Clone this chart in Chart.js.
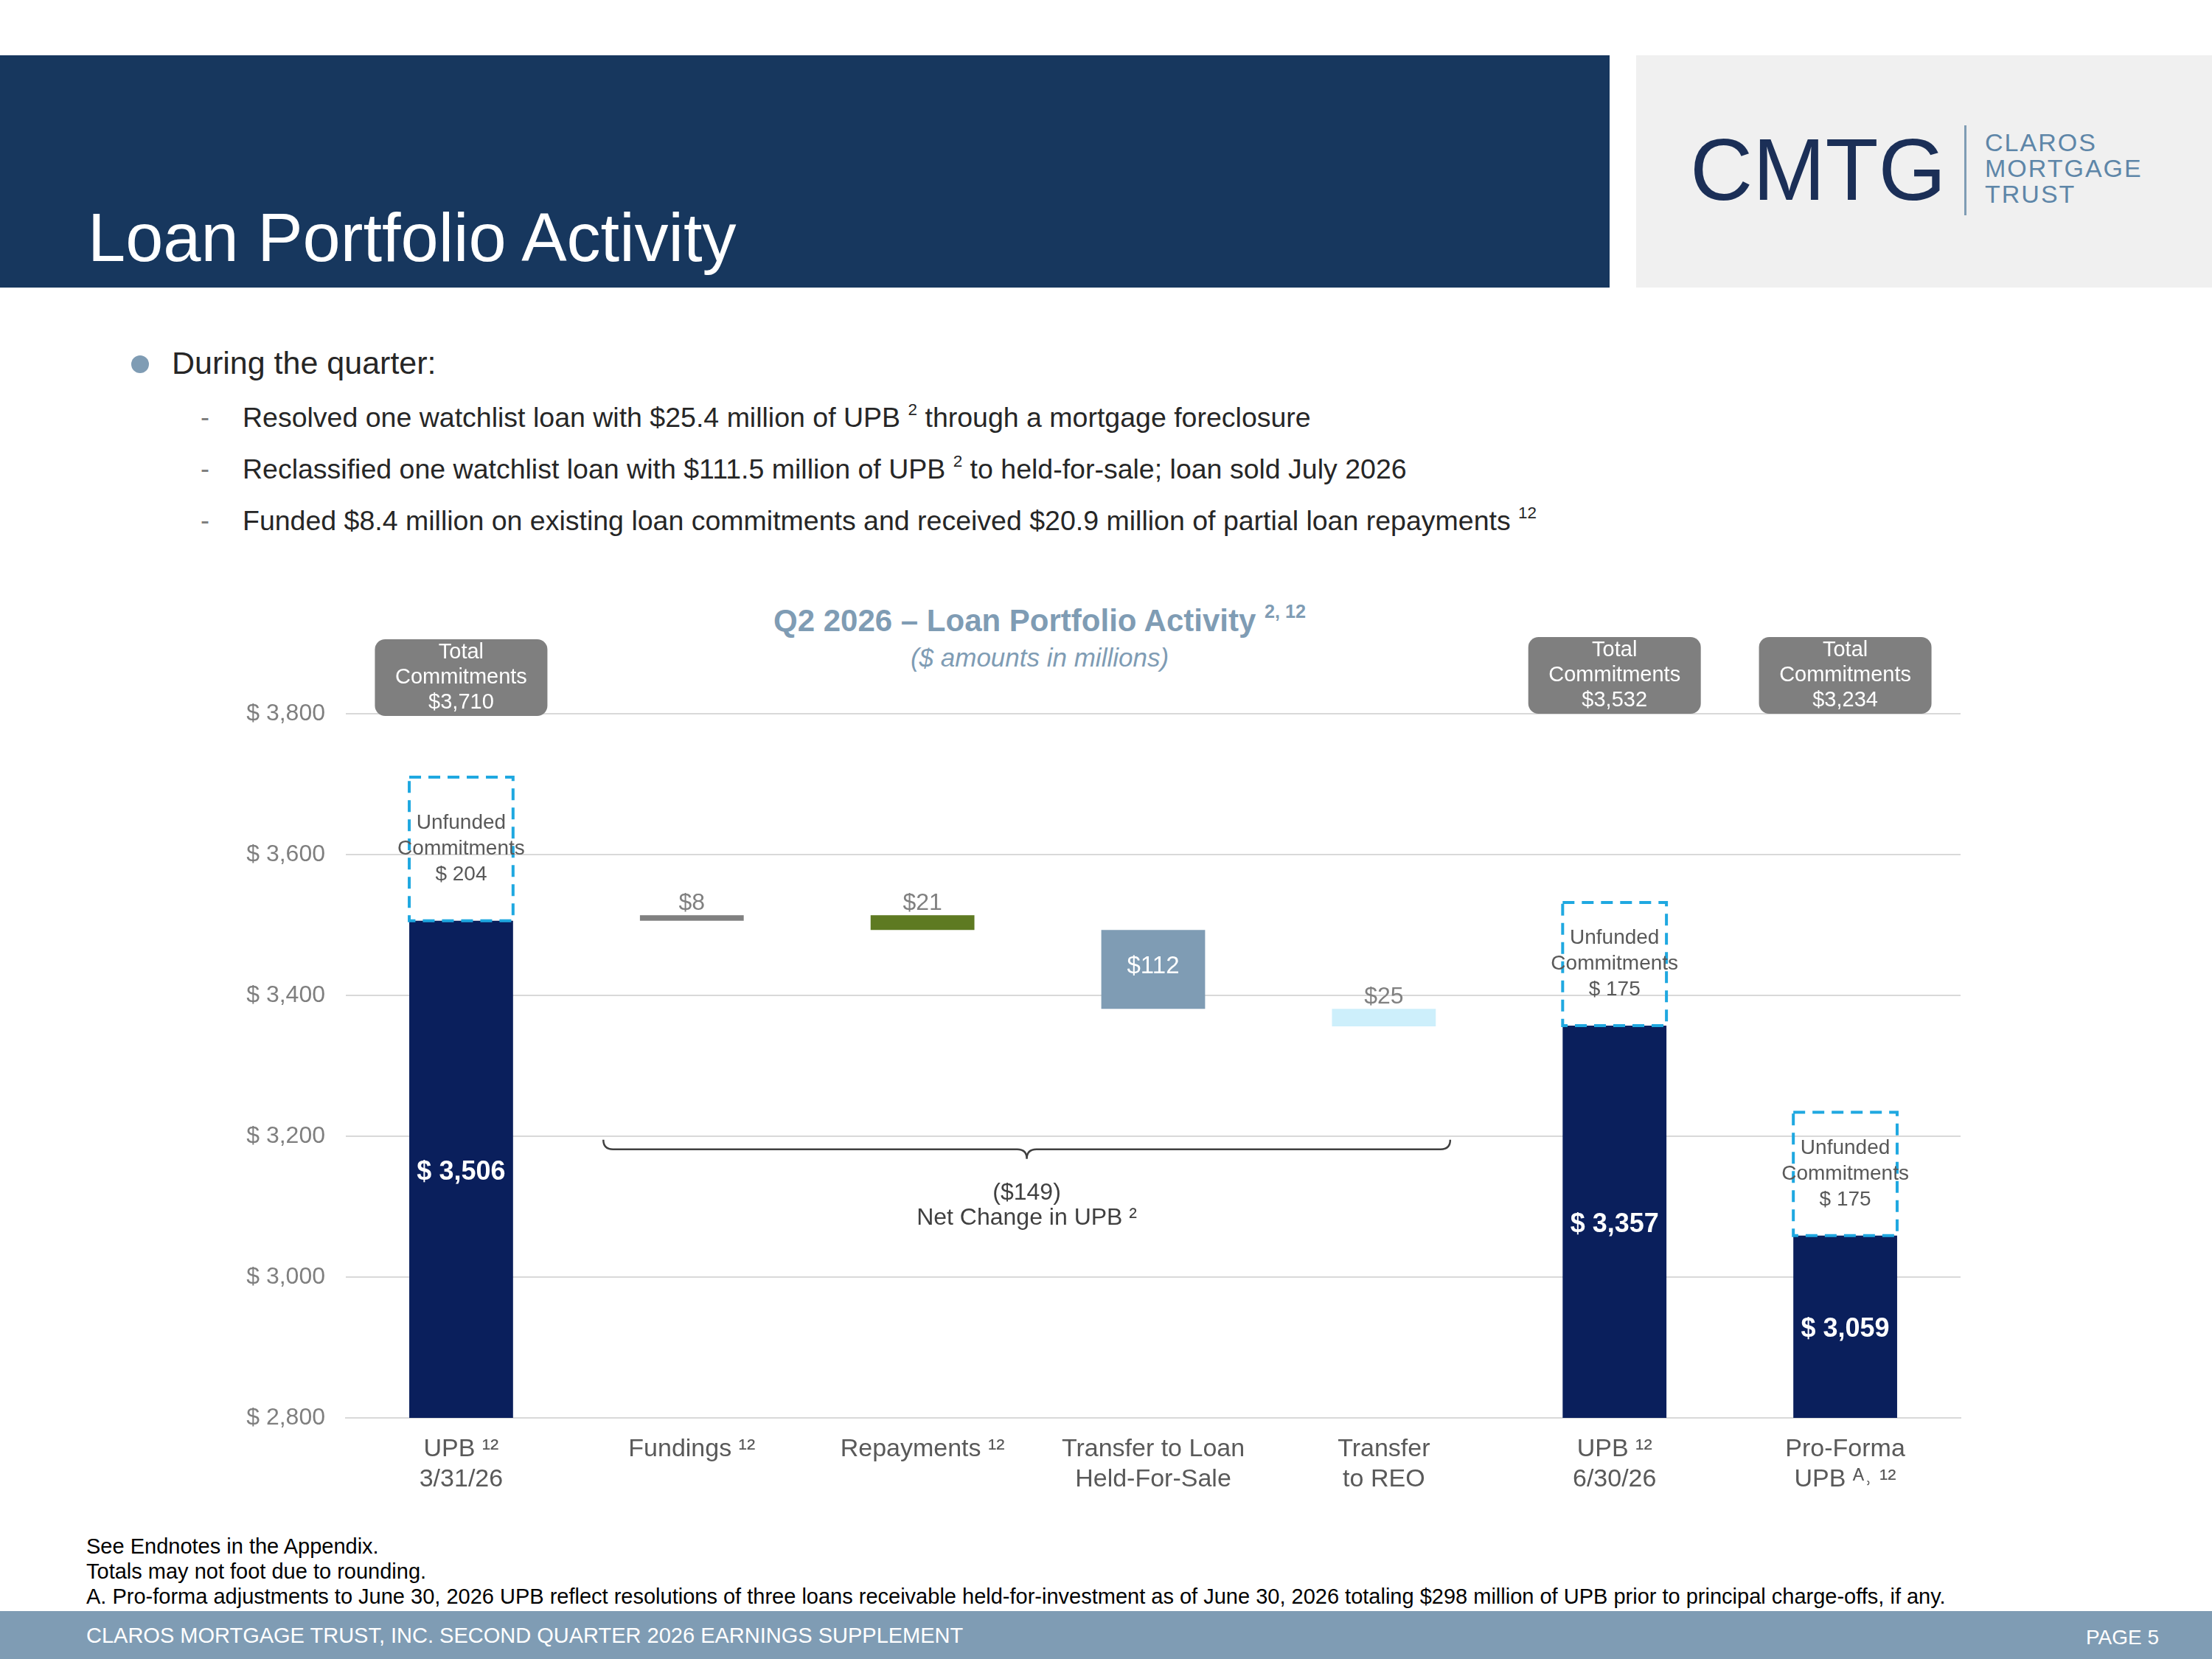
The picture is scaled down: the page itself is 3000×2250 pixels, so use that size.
<!DOCTYPE html>
<html>
<head>
<meta charset="utf-8">
<script src="https://cdn.jsdelivr.net/npm/chart.js@4"></script>
<style>
  html, body { margin: 0; padding: 0; background: #fff; }
  body { width: 3000px; height: 2250px; position: relative; overflow: hidden; font-family: "Liberation Sans", Arial, sans-serif; }
  .abs { position: absolute; }
  #header { left: 0; top: 75px; width: 2183px; height: 315px; background: #17375E; }
  #title { left: 119px; top: 270px; color: #fff; font-size: 92px; }
  #logoBox { left: 2219px; top: 75px; width: 781px; height: 315px; background: #F0F0F0; }
  #cmtg { left: 2292px; top: 162px; font-size: 118px; color: #1B2F57; letter-spacing: 0px; transform: scaleX(1.0); }
  #logoLine { left: 2664px; top: 170px; width: 3px; height: 122px; background: #7F9CB4; }
  #claros { left: 2692px; top: 176px; font-size: 34px; line-height: 35px; color: #5E86A8; letter-spacing: 2px; }
  .bullet { color: #262626; }
  #b0 { left: 233px; top: 468px; font-size: 43px; }
  #dot { left: 178px; top: 482px; width: 24px; height: 24px; border-radius: 50%; background: #7F9CB4; }
  .sub { left: 329px; font-size: 37.5px; }
  .dash { left: 272px; font-size: 36px; color: #7F7F7F; }
  sup { font-size: 60%; line-height: 0; vertical-align: 0.7em; }
  #ctitle { left: 0; width: 2820px; text-align: center; top: 818px; font-size: 42px; font-weight: bold; color: #7F9CB4; }
  #csub { left: 0; width: 2820px; text-align: center; top: 872px; font-size: 35px; font-style: italic; color: #7F9CB4; }
  .note { left: 117px; font-size: 29px; color: #000; }
  #footer { left: 0; top: 2185px; width: 3000px; height: 65px; background: #7F9CB4; }
  #ftext { left: 117px; top: 2202px; font-size: 29px; color: #fff; }
  #page { right: 72px; top: 2205px; font-size: 28px; color: #fff; }
  canvas { position: absolute; left: 0; top: 0; }
</style>
</head>
<body>
<div id="header" class="abs"></div>
<div id="title" class="abs">Loan Portfolio Activity</div>
<div id="logoBox" class="abs"></div>
<div id="cmtg" class="abs">CMTG</div>
<div id="logoLine" class="abs"></div>
<div id="claros" class="abs">CLAROS<br>MORTGAGE<br>TRUST</div>

<div id="dot" class="abs"></div>
<div id="b0" class="abs bullet">During the quarter:</div>
<div class="abs dash" style="top:545px">-</div>
<div class="abs sub bullet" style="top:545px">Resolved one watchlist loan with $25.4 million of UPB <sup>2</sup> through a mortgage foreclosure</div>
<div class="abs dash" style="top:615px">-</div>
<div class="abs sub bullet" style="top:615px">Reclassified one watchlist loan with $111.5 million of UPB <sup>2</sup> to held-for-sale; loan sold July 2026</div>
<div class="abs dash" style="top:685px">-</div>
<div class="abs sub bullet" style="top:685px">Funded $8.4 million on existing loan commitments and received $20.9 million of partial loan repayments <sup>12</sup></div>

<div id="ctitle" class="abs">Q2 2026 – Loan Portfolio Activity <sup>2, 12</sup></div>
<div id="csub" class="abs">($ amounts in millions)</div>

<div class="abs note" style="top:2081px">See Endnotes in the Appendix.</div>
<div class="abs note" style="top:2115px">Totals may not foot due to rounding.</div>
<div class="abs note" style="top:2149px">A. Pro-forma adjustments to June 30, 2026 UPB reflect resolutions of three loans receivable held-for-investment as of June 30, 2026 totaling $298 million of UPB prior to principal charge-offs, if any.</div>
<div id="footer" class="abs"></div>
<div id="ftext" class="abs">CLAROS MORTGAGE TRUST, INC. SECOND QUARTER 2026 EARNINGS SUPPLEMENT</div>
<div id="page" class="abs">PAGE 5</div>

<canvas id="wf" width="3000" height="2250"></canvas>
<script>
// --- Data ---
const categories = [['UPB ¹²', '3/31/26'], 'Fundings ¹²', 'Repayments ¹²', ['Transfer to Loan', 'Held-For-Sale'], ['Transfer', 'to REO'], ['UPB ¹²', '6/30/26'], ['Pro-Forma', 'UPB ᴬ˒ ¹²']];
const barLow  = [2800, 3506, 3493, 3381, 3356, 2800, 2800];
const barHigh = [3506, 3514, 3514, 3493, 3381, 3357, 3059];
const barLabels = ['$ 3,506', '$8', '$21', '$112', '$25', '$ 3,357', '$ 3,059'];
const unfundedLow  = [3506, null, null, null, null, 3357, 3059];
const unfundedHigh = [3710, null, null, null, null, 3532, 3234];
const unfundedText = ['$ 204', null, null, null, null, '$ 175', '$ 175'];
const totalText = ['$3,710', null, null, null, null, '$3,532', '$3,234'];
const yTicks = [2800, 3000, 3200, 3400, 3600, 3800];
const netChange = '($149)';

const barColors = ['#0A1F5C', '#808080', '#5E7A22', '#7F9CB4', '#CDEFFB', '#0A1F5C', '#0A1F5C'];
const FONT = '"Liberation Sans", Arial, sans-serif';

const overlayPlugin = {
    id: 'overlay',
    afterDatasetsDraw(chart) {
        const ctx = chart.ctx;
        const bars = chart.getDatasetMeta(0).data;
        const boxes = chart.getDatasetMeta(1).data;
        const y = chart.scales.y;
        ctx.save();
        ctx.textAlign = 'center';
        ctx.textBaseline = 'middle';

        // bar value labels
        bars.forEach((b, i) => {
            const big = i === 0 || i >= 5;
            if (big) {
                ctx.font = 'bold 36px ' + FONT;
                ctx.fillStyle = '#fff';
                ctx.fillText(barLabels[i], b.x, (b.y + b.base) / 2 + 4);
            } else if (i === 3) {
                ctx.font = '33px ' + FONT;
                ctx.fillStyle = '#fff';
                ctx.fillText(barLabels[i], b.x, (b.y + b.base) / 2 - 4);
            } else {
                ctx.font = '32px ' + FONT;
                ctx.fillStyle = '#808080';
                ctx.fillText(barLabels[i], b.x, Math.min(b.y, b.base) - 16);
            }
        });

        // dashed unfunded boxes + totals
        boxes.forEach((b, i) => {
            if (unfundedLow[i] == null) return;
            const w = b.width, top = b.y, bot = b.base;
            ctx.setLineDash([16, 10]);
            ctx.lineWidth = 4;
            ctx.strokeStyle = '#1FA8E0';
            ctx.strokeRect(b.x - w / 2, top, w, bot - top);
            ctx.setLineDash([]);
            const mid = (top + bot) / 2;
            ctx.font = '28px ' + FONT;
            ctx.fillStyle = '#595959';
            ctx.fillText('Unfunded', b.x, mid - 35);
            ctx.fillText('Commitments', b.x, mid);
            ctx.fillText(unfundedText[i], b.x, mid + 35);

            // total commitments box
            const bw = 234, bh = 104, bx = b.x - bw / 2, by = i === 0 ? 867 : 864;
            ctx.fillStyle = '#7F7F7F';
            ctx.beginPath();
            ctx.roundRect(bx, by, bw, bh, 14);
            ctx.fill();
            ctx.fillStyle = '#fff';
            ctx.font = '29px ' + FONT;
            ctx.fillText('Total', b.x, by + 18);
            ctx.fillText('Commitments', b.x, by + 52);
            ctx.fillText(totalText[i], b.x, by + 86);
        });

        // brace for net change
        const x1 = bars[1].x - 120, x2 = bars[4].x + 90;
        const yb = y.getPixelForValue(3195), yc = yb + 26, xm = (x1 + x2) / 2;
        ctx.strokeStyle = '#404040';
        ctx.lineWidth = 2.5;
        ctx.beginPath();
        ctx.moveTo(x1, yb);
        ctx.quadraticCurveTo(x1, yb + 13, x1 + 13, yb + 13);
        ctx.lineTo(xm - 13, yb + 13);
        ctx.quadraticCurveTo(xm, yb + 13, xm, yc);
        ctx.quadraticCurveTo(xm, yb + 13, xm + 13, yb + 13);
        ctx.lineTo(x2 - 13, yb + 13);
        ctx.quadraticCurveTo(x2, yb + 13, x2, yb);
        ctx.stroke();
        ctx.fillStyle = '#404040';
        ctx.font = '32px ' + FONT;
        ctx.fillText(netChange, xm, yc + 46);
        ctx.fillText('Net Change in UPB ²', xm, yc + 80);
        ctx.restore();
    }
};

new Chart(document.getElementById('wf'), {
    type: 'bar',
    data: {
        labels: categories,
        datasets: [
            {
                data: barLow.map((v, i) => [v, barHigh[i]]),
                backgroundColor: barColors,
                borderWidth: 0,
                grouped: false,
                barPercentage: 0.9,
                categoryPercentage: 0.5
            },
            {
                data: unfundedLow.map((v, i) => v == null ? null : [v, unfundedHigh[i]]),
                backgroundColor: 'rgba(0,0,0,0)',
                borderWidth: 0,
                grouped: false,
                barPercentage: 0.9,
                categoryPercentage: 0.5
            }
        ]
    },
    options: {
        responsive: false,
        animation: false,
        devicePixelRatio: 1,
        layout: { padding: { left: 300, right: 341, top: 968, bottom: 187 } },
        plugins: { legend: { display: false }, tooltip: { enabled: false } },
        scales: {
            y: {
                min: 2800, max: 3800,
                afterFit: s => { s.width = 169; },
                afterBuildTicks: s => { s.ticks = yTicks.map(v => ({ value: v })); },
                grid: { color: '#D9D9D9', lineWidth: 2, drawTicks: false },
                border: { display: false },
                ticks: {
                    padding: 28,
                    color: '#7F7F7F',
                    font: { size: 32, family: FONT },
                    callback: v => '$ ' + v.toLocaleString('en-US')
                }
            },
            x: {
                afterFit: s => { s.height = 140; },
                grid: { display: false },
                border: { color: '#D9D9D9', width: 2 },
                ticks: { color: '#595959', font: { size: 34, family: FONT }, padding: 14, maxRotation: 0 }
            }
        }
    },
    plugins: [overlayPlugin]
});
</script>
</body>
</html>
